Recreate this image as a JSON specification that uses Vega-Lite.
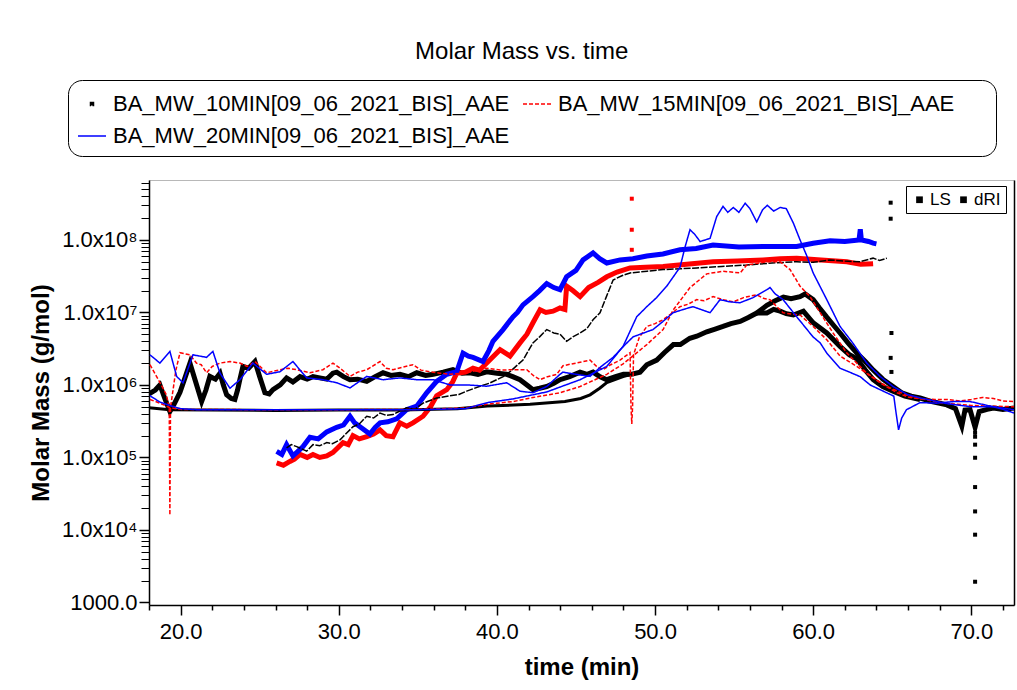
{
  "$schema": "https://vega.github.io/schema/vega-lite/v6.json",
  "width": 865,
  "height": 425,
  "autosize": {"type": "none"},
  "padding": {"left": 149, "top": 180, "right": 3, "bottom": 85},
  "background": "white",
  "title": {"text": "Molar Mass vs. time", "fontSize": 24, "fontWeight": "normal", "font": "Liberation Sans", "color": "#000", "anchor": "middle", "frame": "bounds", "offset": 16},
  "config": {
    "font": "Liberation Sans",
    "view": {"stroke": "#b8b8b8", "strokeWidth": 1},
    "axis": {"grid": false, "domainColor": "#000", "tickColor": "#000", "labelColor": "#000", "titleColor": "#000", "labelFont": "Liberation Sans", "titleFont": "Liberation Sans", "labelFlush": false, "labelOverlap": false},
    "legend": {"labelFont": "Liberation Sans", "labelColor": "#000"}
  },
  "datasets": {
    "series": [
      {"s": "Bn", "g": "10", "k": "T", "d": "LS"},
      {"s": "Bs", "g": "10", "k": "T", "d": "LS"},
      {"s": "Bf", "g": "10", "k": "M", "d": "dRI"},
      {"s": "Bt", "g": "10", "k": "L", "d": "dRI"},
      {"s": "Rk", "g": "15", "k": "T", "d": "LS"},
      {"s": "Rn", "g": "15", "k": "L", "d": "LS"},
      {"s": "Rf", "g": "15", "k": "L", "d": "dRI"},
      {"s": "Lk", "g": "20", "k": "T", "d": "LS"},
      {"s": "Ln", "g": "20", "k": "L", "d": "LS"},
      {"s": "Lf", "g": "20", "k": "L", "d": "dRI"},
      {"s": "Rd", "g": "15", "k": "D", "d": "LS"},
      {"s": "Bd", "g": "10", "k": "D", "d": "LS"}
    ],
    "pts": [
      {"s":"Bn","t":18.0,"m":7.5e5},{"s":"Bn","t":18.4,"m":8.5e5},{"s":"Bn","t":18.69,"m":1.0e6},{"s":"Bn","t":19.0,"m":6.5e5},{"s":"Bn","t":19.32,"m":4.3e5},{"s":"Bn","t":19.6,"m":5.5e5},{"s":"Bn","t":19.96,"m":7.9e5},{"s":"Bn","t":20.3,"m":1.3e6},{"s":"Bn","t":20.59,"m":2.0e6},{"s":"Bn","t":20.9,"m":1.2e6},{"s":"Bn","t":21.33,"m":5.9e5},{"s":"Bn","t":21.6,"m":8.5e5},{"s":"Bn","t":21.85,"m":1.31e6},{"s":"Bn","t":22.2,"m":1.2e6},{"s":"Bn","t":22.49,"m":1.45e6},{"s":"Bn","t":22.7,"m":1.0e6},{"s":"Bn","t":22.91,"m":7.3e5},{"s":"Bn","t":23.2,"m":6.5e5},{"s":"Bn","t":23.43,"m":6.3e5},{"s":"Bn","t":23.6,"m":8.5e5},{"s":"Bn","t":23.75,"m":1.2e6},{"s":"Bn","t":23.94,"m":1.8e6},{"s":"Bn","t":24.3,"m":1.7e6},{"s":"Bn","t":24.7,"m":2.1e6},{"s":"Bn","t":25.0,"m":1.3e6},{"s":"Bn","t":25.33,"m":7.8e5},{"s":"Bn","t":25.6,"m":7.5e5},{"s":"Bn","t":25.84,"m":8.6e5},{"s":"Bn","t":26.3,"m":1.0e6},{"s":"Bn","t":26.7,"m":1.25e6},{"s":"Bn","t":27.1,"m":1.1e6},{"s":"Bn","t":27.55,"m":1.3e6},{"s":"Bn","t":28.0,"m":1.2e6},{"s":"Bn","t":28.37,"m":1.3e6},{"s":"Bn","t":28.8,"m":1.25e6},{"s":"Bn","t":29.24,"m":1.2e6},{"s":"Bn","t":29.63,"m":1.45e6},{"s":"Bn","t":29.87,"m":1.5e6},{"s":"Bn","t":30.3,"m":1.3e6},{"s":"Bn","t":30.71,"m":1.18e6},{"s":"Bn","t":31.2,"m":1.2e6},{"s":"Bn","t":31.77,"m":1.12e6},{"s":"Bn","t":32.3,"m":1.3e6},{"s":"Bn","t":32.8,"m":1.47e6},{"s":"Bn","t":33.3,"m":1.35e6},{"s":"Bn","t":33.87,"m":1.4e6},{"s":"Bn","t":34.4,"m":1.3e6},{"s":"Bn","t":34.93,"m":1.47e6},{"s":"Bn","t":35.5,"m":1.35e6},{"s":"Bn","t":35.97,"m":1.4e6},{"s":"Bn","t":36.6,"m":1.5e6},{"s":"Bn","t":37.22,"m":1.62e6},{"s":"Bn","t":37.8,"m":1.45e6},{"s":"Bn","t":38.3,"m":1.47e6},{"s":"Bn","t":38.8,"m":1.4e6},{"s":"Bn","t":39.36,"m":1.52e6},{"s":"Bn","t":40.0,"m":1.45e6},{"s":"Bn","t":40.62,"m":1.4e6},{"s":"Bn","t":41.0,"m":1.3e6},{"s":"Bn","t":41.46,"m":1.18e6},{"s":"Bn","t":41.9,"m":1.0e6},{"s":"Bn","t":42.28,"m":8.6e5},{"s":"Bn","t":42.7,"m":9.0e5},{"s":"Bn","t":43.15,"m":9.5e5},{"s":"Bn","t":43.6,"m":1.05e6},{"s":"Bn","t":43.99,"m":1.18e6},{"s":"Bn","t":44.6,"m":1.3e6},{"s":"Bn","t":45.26,"m":1.5e6},{"s":"Bn","t":45.7,"m":1.4e6},{"s":"Bn","t":46.08,"m":1.5e6},{"s":"Bn","t":46.5,"m":1.3e6},{"s":"Bn","t":46.95,"m":1.18e6},{"s":"Bn","t":47.5,"m":1.3e6},{"s":"Bn","t":48.0,"m":1.4e6},{"s":"Bn","t":48.5,"m":1.4e6},{"s":"Bn","t":49.05,"m":1.5e6},{"s":"Bn","t":49.48,"m":1.9e6},{"s":"Bn","t":50.11,"m":2.2e6},{"s":"Bn","t":50.6,"m":2.8e6},{"s":"Bn","t":51.16,"m":3.6e6},{"s":"Bn","t":51.6,"m":3.6e6},{"s":"Bn","t":52.2,"m":4.4e6},{"s":"Bn","t":52.64,"m":4.7e6},{"s":"Bn","t":53.27,"m":5.4e6},{"s":"Bn","t":53.8,"m":5.9e6},{"s":"Bn","t":54.3,"m":6.4e6},{"s":"Bn","t":54.8,"m":7.0e6},{"s":"Bn","t":55.38,"m":7.5e6},{"s":"Bn","t":55.9,"m":8.5e6},{"s":"Bn","t":56.43,"m":9.8e6},{"s":"Bn","t":57.07,"m":1.25e7},{"s":"Bn","t":57.6,"m":1.45e7},{"s":"Bn","t":58.12,"m":1.63e7},{"s":"Bn","t":58.6,"m":1.55e7},{"s":"Bn","t":59.17,"m":1.65e7},{"s":"Bn","t":59.49,"m":1.8e7},{"s":"Bn","t":60.0,"m":1.5e7},{"s":"Bn","t":60.4,"m":1.15e7},{"s":"Bn","t":60.86,"m":8.6e6},{"s":"Bn","t":61.3,"m":6.6e6},{"s":"Bn","t":61.7,"m":5.2e6},{"s":"Bn","t":62.2,"m":3.8e6},{"s":"Bn","t":62.76,"m":2.75e6},{"s":"Bn","t":63.3,"m":2.1e6},{"s":"Bn","t":63.8,"m":1.6e6},{"s":"Bn","t":64.4,"m":1.2e6},{"s":"Bn","t":65.05,"m":9.5e5},{"s":"Bn","t":65.6,"m":7.8e5},{"s":"Bn","t":66.2,"m":7.0e5},{"s":"Bn","t":66.76,"m":6.6e5},{"s":"Bn","t":67.5,"m":5.9e5},{"s":"Bn","t":68.45,"m":5.3e5},{"s":"Bn","t":69.0,"m":4.7e5},{"s":"Bn","t":69.4,"m":2.7e5},{"s":"Bn","t":69.6,"m":4.5e5},{"s":"Bn","t":69.92,"m":4.55e5},{"s":"Bn","t":70.24,"m":2.6e5},{"s":"Bn","t":70.5,"m":4.3e5},{"s":"Bn","t":71.0,"m":4.6e5},{"s":"Bn","t":71.4,"m":4.8e5},{"s":"Bn","t":72.0,"m":4.6e5},{"s":"Bn","t":72.7,"m":4.8e5},
      {"s":"Bs","t":56.43,"m":9.8e6},{"s":"Bs","t":57.07,"m":9.8e6},{"s":"Bs","t":57.5,"m":1.1e7},{"s":"Bs","t":57.91,"m":1.04e7},{"s":"Bs","t":58.3,"m":9.6e6},{"s":"Bs","t":58.75,"m":9.2e6},{"s":"Bs","t":59.38,"m":1.04e7},{"s":"Bs","t":60.0,"m":7.2e6},{"s":"Bs","t":60.86,"m":5.2e6},{"s":"Bs","t":61.7,"m":3.4e6},{"s":"Bs","t":62.3,"m":2.6e6},{"s":"Bs","t":62.76,"m":2.3e6},{"s":"Bs","t":63.3,"m":1.6e6},{"s":"Bs","t":63.8,"m":1.18e6},{"s":"Bs","t":64.4,"m":9.5e5},{"s":"Bs","t":65.05,"m":8.2e5},{"s":"Bs","t":65.8,"m":7.0e5},{"s":"Bs","t":66.76,"m":6.3e5},
      {"s":"Bf","t":18.0,"m":4.85e5},{"s":"Bf","t":19.3,"m":4.55e5},{"s":"Bf","t":22.0,"m":4.5e5},{"s":"Bf","t":26.0,"m":4.45e5},{"s":"Bf","t":30.0,"m":4.5e5},{"s":"Bf","t":34.0,"m":4.5e5},{"s":"Bf","t":37.5,"m":4.7e5},{"s":"Bf","t":39.4,"m":5.1e5},{"s":"Bf","t":42.1,"m":5.4e5},{"s":"Bf","t":44.3,"m":5.9e5},{"s":"Bf","t":45.3,"m":6.5e5},{"s":"Bf","t":45.89,"m":7.3e5},{"s":"Bf","t":46.5,"m":9.0e5},{"s":"Bf","t":46.95,"m":1.08e6},{"s":"Bf","t":47.98,"m":1.3e6},{"s":"Bf","t":48.5,"m":1.4e6},
      {"s":"Bt","t":26.7,"m":1.35e5},{"s":"Bt","t":27.0,"m":1.5e5},{"s":"Bt","t":27.34,"m":1.41e5},{"s":"Bt","t":27.97,"m":1.22e5},{"s":"Bt","t":28.37,"m":1.5e5},{"s":"Bt","t":28.8,"m":1.45e5},{"s":"Bt","t":29.24,"m":1.6e5},{"s":"Bt","t":29.6,"m":1.55e5},{"s":"Bt","t":30.08,"m":1.75e5},{"s":"Bt","t":30.27,"m":1.93e5},{"s":"Bt","t":30.9,"m":2.65e5},{"s":"Bt","t":31.3,"m":2.9e5},{"s":"Bt","t":31.77,"m":3.7e5},{"s":"Bt","t":32.2,"m":3.5e5},{"s":"Bt","t":32.61,"m":4.1e5},{"s":"Bt","t":33.0,"m":3.8e5},{"s":"Bt","t":33.43,"m":3.9e5},{"s":"Bt","t":34.29,"m":4.85e5},{"s":"Bt","t":34.8,"m":4.6e5},{"s":"Bt","t":35.33,"m":5.6e5},{"s":"Bt","t":36.19,"m":6.6e5},{"s":"Bt","t":37.03,"m":7.1e5},{"s":"Bt","t":37.6,"m":7.4e5},{"s":"Bt","t":38.09,"m":8.2e5},{"s":"Bt","t":38.93,"m":9.6e5},{"s":"Bt","t":39.5,"m":1.05e6},{"s":"Bt","t":39.99,"m":1.18e6},{"s":"Bt","t":40.4,"m":1.3e6},{"s":"Bt","t":40.83,"m":1.52e6},{"s":"Bt","t":41.2,"m":1.8e6},{"s":"Bt","t":41.65,"m":2.2e6},{"s":"Bt","t":42.28,"m":3.8e6},{"s":"Bt","t":42.7,"m":4.6e6},{"s":"Bt","t":43.15,"m":5.8e6},{"s":"Bt","t":43.6,"m":5.2e6},{"s":"Bt","t":43.99,"m":5.0e6},{"s":"Bt","t":44.41,"m":4.0e6},{"s":"Bt","t":44.8,"m":4.6e6},{"s":"Bt","t":45.26,"m":5.2e6},{"s":"Bt","t":45.7,"m":6.0e6},{"s":"Bt","t":46.08,"m":7.9e6},{"s":"Bt","t":46.52,"m":9.9e6},{"s":"Bt","t":46.9,"m":1.6e7},{"s":"Bt","t":47.35,"m":2.8e7},{"s":"Bt","t":47.9,"m":3.2e7},{"s":"Bt","t":48.42,"m":3.5e7},{"s":"Bt","t":49.5,"m":3.7e7},{"s":"Bt","t":50.51,"m":3.9e7},{"s":"Bt","t":51.6,"m":4.0e7},{"s":"Bt","t":52.64,"m":4.1e7},{"s":"Bt","t":54.2,"m":4.3e7},{"s":"Bt","t":55.8,"m":4.5e7},{"s":"Bt","t":57.4,"m":4.8e7},{"s":"Bt","t":58.96,"m":5.0e7},{"s":"Bt","t":60.0,"m":4.9e7},{"s":"Bt","t":61.07,"m":5.3e7},{"s":"Bt","t":62.0,"m":5.1e7},{"s":"Bt","t":62.97,"m":5.0e7},{"s":"Bt","t":63.79,"m":5.6e7},{"s":"Bt","t":64.2,"m":5.2e7},{"s":"Bt","t":64.66,"m":5.6e7},
      {"s":"Rk","t":26.07,"m":8.4e4},{"s":"Rk","t":26.5,"m":7.8e4},{"s":"Rk","t":26.91,"m":8.8e4},{"s":"Rk","t":27.2,"m":9.5e4},{"s":"Rk","t":27.55,"m":1.1e5},{"s":"Rk","t":28.0,"m":1.0e5},{"s":"Rk","t":28.37,"m":1.1e5},{"s":"Rk","t":28.8,"m":1.0e5},{"s":"Rk","t":29.24,"m":1.05e5},{"s":"Rk","t":29.63,"m":1.17e5},{"s":"Rk","t":30.27,"m":1.6e5},{"s":"Rk","t":30.6,"m":1.5e5},{"s":"Rk","t":30.9,"m":2.0e5},{"s":"Rk","t":31.3,"m":1.8e5},{"s":"Rk","t":31.77,"m":1.93e5},{"s":"Rk","t":32.2,"m":2.1e5},{"s":"Rk","t":32.61,"m":2.4e5},{"s":"Rk","t":33.0,"m":2.0e5},{"s":"Rk","t":33.43,"m":1.93e5},{"s":"Rk","t":33.87,"m":3.0e5},{"s":"Rk","t":34.3,"m":2.7e5},{"s":"Rk","t":34.69,"m":3.0e5},{"s":"Rk","t":35.33,"m":3.7e5},{"s":"Rk","t":35.8,"m":5.0e5},{"s":"Rk","t":36.19,"m":7.1e5},{"s":"Rk","t":36.83,"m":8.6e5},{"s":"Rk","t":37.2,"m":1.1e6},{"s":"Rk","t":37.46,"m":1.45e6},{"s":"Rk","t":38.0,"m":1.5e6},{"s":"Rk","t":38.49,"m":1.7e6},{"s":"Rk","t":38.9,"m":1.6e6},{"s":"Rk","t":39.36,"m":2.0e6},{"s":"Rk","t":39.8,"m":2.5e6},{"s":"Rk","t":40.2,"m":3.06e6},{"s":"Rk","t":40.83,"m":2.5e6},{"s":"Rk","t":41.46,"m":3.8e6},{"s":"Rk","t":41.9,"m":5.0e6},{"s":"Rk","t":42.28,"m":7.2e6},{"s":"Rk","t":42.73,"m":1.09e7},{"s":"Rk","t":43.1,"m":1.0e7},{"s":"Rk","t":43.55,"m":1.04e7},{"s":"Rk","t":43.99,"m":1.15e7},{"s":"Rk","t":44.3,"m":1.1e7},{"s":"Rk","t":44.41,"m":2.3e7},{"s":"Rk","t":44.8,"m":2.0e7},{"s":"Rk","t":45.26,"m":1.65e7},{"s":"Rk","t":45.8,"m":2.2e7},{"s":"Rk","t":46.4,"m":2.6e7},{"s":"Rk","t":46.95,"m":3.1e7},{"s":"Rk","t":47.6,"m":3.6e7},{"s":"Rk","t":48.42,"m":4.1e7},{"s":"Rk","t":49.4,"m":4.2e7},{"s":"Rk","t":50.51,"m":4.3e7},{"s":"Rk","t":52.0,"m":4.6e7},{"s":"Rk","t":53.67,"m":5.0e7},{"s":"Rk","t":55.2,"m":5.1e7},{"s":"Rk","t":56.83,"m":5.3e7},{"s":"Rk","t":57.9,"m":5.5e7},{"s":"Rk","t":58.96,"m":5.6e7},{"s":"Rk","t":60.5,"m":5.3e7},{"s":"Rk","t":62.13,"m":5.0e7},{"s":"Rk","t":63.0,"m":4.6e7},{"s":"Rk","t":63.79,"m":4.7e7},
      {"s":"Rn","t":18.06,"m":1.9e6},{"s":"Rn","t":18.4,"m":1.4e6},{"s":"Rn","t":18.7,"m":1.07e6},{"s":"Rn","t":19.1,"m":7.3e5},{"s":"Rn","t":19.28,"m":4.85e5},{"s":"Rn","t":19.32,"m":1.6e4},{"s":"Rn","t":19.36,"m":4.85e5},{"s":"Rn","t":19.7,"m":1.6e6},{"s":"Rn","t":19.96,"m":2.78e6},{"s":"Rn","t":20.59,"m":2.6e6},{"s":"Rn","t":21.0,"m":2.0e6},{"s":"Rn","t":21.3,"m":1.9e6},{"s":"Rn","t":21.64,"m":1.47e6},{"s":"Rn","t":22.0,"m":1.8e6},{"s":"Rn","t":22.49,"m":2.0e6},{"s":"Rn","t":23.12,"m":2.1e6},{"s":"Rn","t":23.75,"m":2.0e6},{"s":"Rn","t":24.2,"m":1.8e6},{"s":"Rn","t":24.7,"m":2.1e6},{"s":"Rn","t":25.44,"m":1.47e6},{"s":"Rn","t":26.28,"m":1.62e6},{"s":"Rn","t":26.8,"m":1.7e6},{"s":"Rn","t":27.34,"m":1.62e6},{"s":"Rn","t":28.18,"m":1.47e6},{"s":"Rn","t":29.0,"m":1.62e6},{"s":"Rn","t":29.63,"m":2.0e6},{"s":"Rn","t":30.08,"m":1.7e6},{"s":"Rn","t":30.71,"m":1.31e6},{"s":"Rn","t":31.2,"m":1.5e6},{"s":"Rn","t":31.77,"m":1.62e6},{"s":"Rn","t":32.61,"m":2.1e6},{"s":"Rn","t":33.0,"m":1.7e6},{"s":"Rn","t":33.43,"m":1.62e6},{"s":"Rn","t":34.0,"m":1.75e6},{"s":"Rn","t":34.69,"m":1.9e6},{"s":"Rn","t":35.2,"m":1.6e6},{"s":"Rn","t":35.77,"m":1.52e6},{"s":"Rn","t":36.4,"m":1.45e6},{"s":"Rn","t":37.03,"m":1.4e6},{"s":"Rn","t":38.09,"m":1.47e6},{"s":"Rn","t":38.8,"m":1.6e6},{"s":"Rn","t":39.36,"m":1.7e6},{"s":"Rn","t":40.2,"m":1.6e6},{"s":"Rn","t":41.02,"m":1.62e6},{"s":"Rn","t":41.89,"m":1.62e6},{"s":"Rn","t":42.3,"m":1.35e6},{"s":"Rn","t":42.73,"m":1.18e6},{"s":"Rn","t":43.2,"m":1.3e6},{"s":"Rn","t":43.78,"m":1.4e6},{"s":"Rn","t":44.18,"m":1.84e6},{"s":"Rn","t":45.0,"m":2.0e6},{"s":"Rn","t":45.89,"m":2.2e6},{"s":"Rn","t":46.3,"m":1.8e6},{"s":"Rn","t":46.71,"m":1.62e6},{"s":"Rn","t":47.2,"m":1.9e6},{"s":"Rn","t":47.79,"m":2.2e6},{"s":"Rn","t":48.42,"m":2.78e6},{"s":"Rn","t":48.48,"m":5e5},{"s":"Rn","t":48.53,"m":2.9e5},{"s":"Rn","t":48.58,"m":5e5},{"s":"Rn","t":48.64,"m":2.6e6},{"s":"Rn","t":49.0,"m":4.5e6},{"s":"Rn","t":49.48,"m":6.4e6},{"s":"Rn","t":50.0,"m":7.0e6},{"s":"Rn","t":50.5,"m":7.9e6},{"s":"Rn","t":51.0,"m":9.5e6},{"s":"Rn","t":51.58,"m":1.2e7},{"s":"Rn","t":52.1,"m":1.3e7},{"s":"Rn","t":52.64,"m":1.5e7},{"s":"Rn","t":53.1,"m":1.45e7},{"s":"Rn","t":53.67,"m":1.65e7},{"s":"Rn","t":54.3,"m":1.5e7},{"s":"Rn","t":54.95,"m":1.4e7},{"s":"Rn","t":55.6,"m":1.6e7},{"s":"Rn","t":56.43,"m":1.75e7},{"s":"Rn","t":56.9,"m":1.55e7},{"s":"Rn","t":57.27,"m":1.5e7},{"s":"Rn","t":57.7,"m":1.2e7},{"s":"Rn","t":58.1,"m":9.9e6},{"s":"Rn","t":58.6,"m":9.5e6},{"s":"Rn","t":59.17,"m":9.2e6},{"s":"Rn","t":60.0,"m":6.4e6},{"s":"Rn","t":60.86,"m":4.2e6},{"s":"Rn","t":61.7,"m":2.5e6},{"s":"Rn","t":62.76,"m":1.8e6},{"s":"Rn","t":64.23,"m":1.07e6},{"s":"Rn","t":65.3,"m":7.8e5},{"s":"Rn","t":66.0,"m":6.8e5},{"s":"Rn","t":66.8,"m":6.4e5},{"s":"Rn","t":67.7,"m":6.3e5},{"s":"Rn","t":68.5,"m":6.3e5},{"s":"Rn","t":69.3,"m":6.0e5},{"s":"Rn","t":70.0,"m":6.3e5},{"s":"Rn","t":70.7,"m":6.7e5},{"s":"Rn","t":71.4,"m":6.5e5},{"s":"Rn","t":72.0,"m":6.0e5},{"s":"Rn","t":72.7,"m":5.9e5},
      {"s":"Rf","t":18.06,"m":6.3e5},{"s":"Rf","t":18.69,"m":5.6e5},{"s":"Rf","t":19.32,"m":4.85e5},{"s":"Rf","t":20.0,"m":4.6e5},{"s":"Rf","t":25.0,"m":4.55e5},{"s":"Rf","t":30.0,"m":4.55e5},{"s":"Rf","t":35.0,"m":4.6e5},{"s":"Rf","t":38.0,"m":4.8e5},{"s":"Rf","t":39.36,"m":5.4e5},{"s":"Rf","t":41.02,"m":5.9e5},{"s":"Rf","t":42.28,"m":6.7e5},{"s":"Rf","t":43.99,"m":7.8e5},{"s":"Rf","t":45.26,"m":9.5e5},{"s":"Rf","t":46.95,"m":1.4e6},{"s":"Rf","t":47.98,"m":1.95e6},{"s":"Rf","t":49.48,"m":3.6e6},{"s":"Rf","t":50.51,"m":5.8e6},{"s":"Rf","t":51.16,"m":1.09e7},{"s":"Rf","t":52.21,"m":2.2e7},{"s":"Rf","t":53.27,"m":3.4e7},{"s":"Rf","t":54.3,"m":3.7e7},{"s":"Rf","t":55.38,"m":3.5e7},{"s":"Rf","t":55.8,"m":4.5e7},{"s":"Rf","t":57.07,"m":5.0e7},{"s":"Rf","t":57.91,"m":5.0e7},{"s":"Rf","t":58.54,"m":3.9e7},{"s":"Rf","t":59.17,"m":2.3e7},{"s":"Rf","t":59.8,"m":1.65e7},{"s":"Rf","t":60.44,"m":9.9e6},{"s":"Rf","t":61.26,"m":5.2e6},{"s":"Rf","t":62.13,"m":2.75e6},{"s":"Rf","t":63.39,"m":1.45e6},{"s":"Rf","t":64.66,"m":9.5e5},{"s":"Rf","t":66.0,"m":7.1e5},{"s":"Rf","t":68.0,"m":5.7e5},{"s":"Rf","t":70.0,"m":5.2e5},{"s":"Rf","t":72.7,"m":5.0e5},
      {"s":"Lk","t":26.07,"m":1.21e5},{"s":"Lk","t":26.4,"m":1.1e5},{"s":"Lk","t":26.7,"m":1.5e5},{"s":"Lk","t":27.1,"m":1.05e5},{"s":"Lk","t":27.4,"m":1.2e5},{"s":"Lk","t":27.74,"m":1.41e5},{"s":"Lk","t":28.18,"m":1.9e5},{"s":"Lk","t":28.7,"m":1.8e5},{"s":"Lk","t":29.24,"m":2.25e5},{"s":"Lk","t":29.87,"m":2.6e5},{"s":"Lk","t":30.3,"m":2.8e5},{"s":"Lk","t":30.71,"m":3.7e5},{"s":"Lk","t":31.0,"m":3.0e5},{"s":"Lk","t":31.34,"m":2.65e5},{"s":"Lk","t":31.97,"m":2.1e5},{"s":"Lk","t":32.3,"m":2.6e5},{"s":"Lk","t":32.61,"m":3.0e5},{"s":"Lk","t":33.1,"m":3.1e5},{"s":"Lk","t":33.66,"m":3.4e5},{"s":"Lk","t":34.29,"m":4.55e5},{"s":"Lk","t":34.93,"m":5.1e5},{"s":"Lk","t":35.56,"m":7.8e5},{"s":"Lk","t":36.19,"m":1.12e6},{"s":"Lk","t":36.83,"m":1.4e6},{"s":"Lk","t":37.46,"m":1.52e6},{"s":"Lk","t":37.86,"m":2.75e6},{"s":"Lk","t":38.2,"m":2.5e6},{"s":"Lk","t":38.49,"m":2.4e6},{"s":"Lk","t":39.12,"m":2.1e6},{"s":"Lk","t":39.5,"m":3.0e6},{"s":"Lk","t":39.75,"m":4.0e6},{"s":"Lk","t":40.39,"m":5.8e6},{"s":"Lk","t":41.02,"m":8.7e6},{"s":"Lk","t":41.3,"m":1.0e7},{"s":"Lk","t":41.65,"m":1.27e7},{"s":"Lk","t":42.28,"m":1.65e7},{"s":"Lk","t":42.7,"m":2.0e7},{"s":"Lk","t":43.15,"m":2.5e7},{"s":"Lk","t":43.6,"m":2.2e7},{"s":"Lk","t":43.99,"m":2.06e7},{"s":"Lk","t":44.41,"m":3.1e7},{"s":"Lk","t":45.0,"m":3.8e7},{"s":"Lk","t":45.45,"m":5.3e7},{"s":"Lk","t":46.08,"m":6.6e7},{"s":"Lk","t":46.5,"m":5.5e7},{"s":"Lk","t":46.95,"m":4.8e7},{"s":"Lk","t":47.79,"m":5.3e7},{"s":"Lk","t":48.6,"m":5.5e7},{"s":"Lk","t":49.48,"m":6.0e7},{"s":"Lk","t":50.5,"m":6.4e7},{"s":"Lk","t":51.58,"m":7.3e7},{"s":"Lk","t":52.6,"m":7.6e7},{"s":"Lk","t":53.67,"m":8.5e7},{"s":"Lk","t":55.3,"m":8.0e7},{"s":"Lk","t":56.83,"m":8.1e7},{"s":"Lk","t":58.96,"m":8.1e7},{"s":"Lk","t":60.0,"m":9.0e7},{"s":"Lk","t":61.07,"m":9.7e7},{"s":"Lk","t":62.0,"m":9.5e7},{"s":"Lk","t":62.9,"m":1.0e8},{"s":"Lk","t":62.98,"m":1.4e8},{"s":"Lk","t":63.05,"m":1.0e8},{"s":"Lk","t":63.5,"m":9.5e7},{"s":"Lk","t":63.79,"m":9.0e7},{"s":"Lk","t":64.0,"m":8.8e7},
      {"s":"Ln","t":18.06,"m":2.6e6},{"s":"Ln","t":18.69,"m":2.0e6},{"s":"Ln","t":19.32,"m":2.9e6},{"s":"Ln","t":19.75,"m":1.31e6},{"s":"Ln","t":20.15,"m":1.07e6},{"s":"Ln","t":20.78,"m":2.6e6},{"s":"Ln","t":21.64,"m":2.4e6},{"s":"Ln","t":22.04,"m":2.9e6},{"s":"Ln","t":22.49,"m":1.45e6},{"s":"Ln","t":23.12,"m":9.0e5},{"s":"Ln","t":23.75,"m":1.18e6},{"s":"Ln","t":24.57,"m":2.0e6},{"s":"Ln","t":25.44,"m":1.4e6},{"s":"Ln","t":26.28,"m":1.52e6},{"s":"Ln","t":27.1,"m":2.1e6},{"s":"Ln","t":27.97,"m":1.25e6},{"s":"Ln","t":29.0,"m":1.18e6},{"s":"Ln","t":29.87,"m":1.07e6},{"s":"Ln","t":30.71,"m":9.1e5},{"s":"Ln","t":31.77,"m":1.31e6},{"s":"Ln","t":32.8,"m":1.18e6},{"s":"Ln","t":33.87,"m":1.25e6},{"s":"Ln","t":34.93,"m":1.18e6},{"s":"Ln","t":35.97,"m":1.18e6},{"s":"Ln","t":37.03,"m":1.0e6},{"s":"Ln","t":38.09,"m":1.0e6},{"s":"Ln","t":39.36,"m":9.6e5},{"s":"Ln","t":40.62,"m":1.07e6},{"s":"Ln","t":41.46,"m":8.2e5},{"s":"Ln","t":42.28,"m":7.8e5},{"s":"Ln","t":43.15,"m":9.5e5},{"s":"Ln","t":43.99,"m":1.4e6},{"s":"Ln","t":44.18,"m":1.5e6},{"s":"Ln","t":45.0,"m":1.4e6},{"s":"Ln","t":45.89,"m":1.31e6},{"s":"Ln","t":46.6,"m":1.8e6},{"s":"Ln","t":47.35,"m":2.4e6},{"s":"Ln","t":48.0,"m":3.4e6},{"s":"Ln","t":48.61,"m":4.6e6},{"s":"Ln","t":49.87,"m":5.8e6},{"s":"Ln","t":50.5,"m":7.5e6},{"s":"Ln","t":51.14,"m":9.9e6},{"s":"Ln","t":51.8,"m":1.1e7},{"s":"Ln","t":52.4,"m":1.2e7},{"s":"Ln","t":53.48,"m":9.9e6},{"s":"Ln","t":54.11,"m":1.5e7},{"s":"Ln","t":54.7,"m":1.4e7},{"s":"Ln","t":55.38,"m":1.36e7},{"s":"Ln","t":56.2,"m":1.6e7},{"s":"Ln","t":57.07,"m":2.06e7},{"s":"Ln","t":57.27,"m":2.2e7},{"s":"Ln","t":57.6,"m":1.8e7},{"s":"Ln","t":58.1,"m":1.5e7},{"s":"Ln","t":58.96,"m":8.7e6},{"s":"Ln","t":59.99,"m":4.6e6},{"s":"Ln","t":60.44,"m":3.8e6},{"s":"Ln","t":60.86,"m":2.75e6},{"s":"Ln","t":61.7,"m":1.7e6},{"s":"Ln","t":62.3,"m":1.5e6},{"s":"Ln","t":62.97,"m":1.3e6},{"s":"Ln","t":63.6,"m":1.0e6},{"s":"Ln","t":64.23,"m":8.6e5},{"s":"Ln","t":65.1,"m":7.0e5},{"s":"Ln","t":65.25,"m":4.0e5},{"s":"Ln","t":65.4,"m":2.4e5},{"s":"Ln","t":65.6,"m":3.5e5},{"s":"Ln","t":65.9,"m":4.55e5},{"s":"Ln","t":66.76,"m":5.7e5},{"s":"Ln","t":67.8,"m":5.6e5},{"s":"Ln","t":68.9,"m":5.9e5},{"s":"Ln","t":69.92,"m":5.9e5},{"s":"Ln","t":70.7,"m":5.4e5},{"s":"Ln","t":71.4,"m":5.0e5},{"s":"Ln","t":72.0,"m":4.6e5},{"s":"Ln","t":72.7,"m":4.1e5},
      {"s":"Lf","t":18.06,"m":7.1e5},{"s":"Lf","t":18.69,"m":5.8e5},{"s":"Lf","t":19.32,"m":5.2e5},{"s":"Lf","t":20.0,"m":4.7e5},{"s":"Lf","t":21.0,"m":4.55e5},{"s":"Lf","t":25.0,"m":4.55e5},{"s":"Lf","t":30.0,"m":4.55e5},{"s":"Lf","t":35.0,"m":4.55e5},{"s":"Lf","t":38.0,"m":4.7e5},{"s":"Lf","t":39.4,"m":5.7e5},{"s":"Lf","t":41.0,"m":6.4e5},{"s":"Lf","t":43.15,"m":8.0e5},{"s":"Lf","t":45.26,"m":1.18e6},{"s":"Lf","t":46.95,"m":1.8e6},{"s":"Lf","t":47.98,"m":3.4e6},{"s":"Lf","t":48.84,"m":8.7e6},{"s":"Lf","t":49.48,"m":1.2e7},{"s":"Lf","t":50.1,"m":1.6e7},{"s":"Lf","t":50.74,"m":2.3e7},{"s":"Lf","t":51.58,"m":4.2e7},{"s":"Lf","t":51.9,"m":8.0e7},{"s":"Lf","t":52.21,"m":1.38e8},{"s":"Lf","t":52.5,"m":1.2e8},{"s":"Lf","t":52.85,"m":9.5e7},{"s":"Lf","t":53.48,"m":1.05e8},{"s":"Lf","t":53.9,"m":2.1e8},{"s":"Lf","t":54.3,"m":2.9e8},{"s":"Lf","t":54.6,"m":2.4e8},{"s":"Lf","t":54.95,"m":2.8e8},{"s":"Lf","t":55.3,"m":2.4e8},{"s":"Lf","t":55.7,"m":3.2e8},{"s":"Lf","t":56.0,"m":2.7e8},{"s":"Lf","t":56.43,"m":1.77e8},{"s":"Lf","t":56.8,"m":2.6e8},{"s":"Lf","t":57.1,"m":3.0e8},{"s":"Lf","t":57.5,"m":2.5e8},{"s":"Lf","t":57.91,"m":2.8e8},{"s":"Lf","t":58.3,"m":2.7e8},{"s":"Lf","t":58.75,"m":1.7e8},{"s":"Lf","t":59.17,"m":1.0e8},{"s":"Lf","t":59.6,"m":6.0e7},{"s":"Lf","t":60.0,"m":3.5e7},{"s":"Lf","t":60.86,"m":1.5e7},{"s":"Lf","t":61.7,"m":6.4e6},{"s":"Lf","t":62.5,"m":3.8e6},{"s":"Lf","t":63.39,"m":2.0e6},{"s":"Lf","t":64.23,"m":1.31e6},{"s":"Lf","t":65.05,"m":9.5e5},{"s":"Lf","t":66.0,"m":7.3e5},{"s":"Lf","t":66.8,"m":6.6e5},{"s":"Lf","t":68.5,"m":5.5e5},{"s":"Lf","t":70.0,"m":5.0e5},{"s":"Lf","t":71.4,"m":5.0e5},{"s":"Lf","t":72.7,"m":4.55e5},
      {"s":"Rd","t":48.53,"m":3.7e8},{"s":"Rd","t":48.53,"m":1.38e8},{"s":"Rd","t":48.53,"m":7.3e7},
      {"s":"Bd","t":64.9,"m":3.26e8},{"s":"Bd","t":64.9,"m":1.96e8},{"s":"Bd","t":64.95,"m":5.2e6},{"s":"Bd","t":64.9,"m":2.36e6},{"s":"Bd","t":64.95,"m":1.51e6},
      {"s":"Bd","t":70.24,"m":2.19e5},{"s":"Bd","t":70.24,"m":1.93e5},{"s":"Bd","t":70.24,"m":1.5e5},{"s":"Bd","t":70.24,"m":9.9e4},{"s":"Bd","t":70.24,"m":3.9e4},{"s":"Bd","t":70.24,"m":1.8e4},{"s":"Bd","t":70.24,"m":8.6e3},{"s":"Bd","t":70.24,"m":1.93e3}
    ]
  },
  "data": {"name": "pts"},
  "transform": [
    {"lookup": "s", "from": {"data": {"name": "series"}, "key": "s", "fields": ["g", "k", "d"]}}
  ],
  "layer": [
    {
      "transform": [{"filter": {"field": "k", "equal": "T"}}],
      "mark": {"type": "line", "strokeWidth": 5, "clip": true},
      "encoding": {
        "x": {"field": "t", "type": "quantitative", "scale": {"domain": [18, 72.7], "nice": false, "zero": false},
          "axis": {"orient": "bottom", "values": [20, 30, 40, 50, 60, 70], "format": ".1f", "labelFontSize": 22, "tickSize": 10, "tickWidth": 1.5, "domainWidth": 1.5, "labelPadding": 6, "title": "time (min)", "titleFontSize": 24, "titleFontWeight": "bold", "titlePadding": 13}},
        "y": {"field": "m", "type": "quantitative", "scale": {"type": "log", "domain": [922, 6.7e8], "nice": false},
          "axis": {"orient": "left", "values": [1000, 10000, 100000, 1000000, 10000000, 100000000], "labelExpr": "datum.value < 5000 ? '1000.0' : '1.0x10' + (datum.value < 5e4 ? '\u2074' : datum.value < 5e5 ? '\u2075' : datum.value < 5e6 ? '\u2076' : datum.value < 5e7 ? '\u2077' : '\u2078')", "labelFontSize": 22, "tickSize": 10, "tickWidth": 1.5, "domainWidth": 1.5, "labelPadding": 2, "title": "Molar Mass (g/mol)", "titleFontSize": 24, "titleFontWeight": "bold", "titlePadding": 8}},
        "color": {"field": "g", "type": "nominal", "scale": {"domain": ["10", "15", "20"], "range": ["#000000", "#ff0000", "#0000ff"]},
          "legend": {"orient": "none", "legendX": -81, "legendY": -100, "direction": "horizontal", "columns": 2, "title": null, "strokeColor": "#000", "cornerRadius": 14, "padding": 9, "columnPadding": 10, "rowPadding": 6, "symbolType": "stroke", "symbolSize": 784, "symbolStrokeWidth": 1.5, "labelFontSize": 22, "labelOffset": 6, "labelLimit": 1000,
            "labelExpr": "'BA_MW_' + datum.label + 'MIN[09_06_2021_BIS]_AAE' + (datum.label == '15' ? '\u2800\u2800' : '')",
            "encode": {"symbols": {"update": {
              "shape": {"signal": "datum.value == '10' ? 'square' : 'stroke'"},
              "size": {"signal": "datum.value == '10' ? 9 : 784"},
              "fill": {"signal": "datum.value == '10' ? '#000' : 'transparent'"},
              "strokeDash": {"signal": "datum.value == '15' ? [3, 2] : [1, 0]"}
            }}}}},
        "detail": {"field": "s"}
      }
    },
    {
      "transform": [{"filter": {"field": "k", "equal": "M"}}],
      "mark": {"type": "line", "strokeWidth": 3, "clip": true},
      "encoding": {
        "x": {"field": "t", "type": "quantitative",
          "axis": {"orient": "bottom", "values": [18, 22, 24, 26, 28, 32, 34, 36, 38, 42, 44, 46, 48, 52, 54, 56, 58, 62, 64, 66, 68, 72], "labels": false, "domain": false, "tickSize": 5, "tickWidth": 1.5, "title": null}},
        "y": {"field": "m", "type": "quantitative",
          "axis": {"orient": "left", "values": [900, 2000, 3000, 4000, 5000, 6000, 7000, 8000, 9000, 20000, 30000, 40000, 50000, 60000, 70000, 80000, 90000, 200000, 300000, 400000, 500000, 600000, 700000, 800000, 900000, 2000000, 3000000, 4000000, 5000000, 6000000, 7000000, 8000000, 9000000, 20000000, 30000000, 40000000, 50000000, 60000000, 70000000, 80000000, 90000000, 200000000, 300000000, 400000000, 500000000, 600000000], "labels": false, "domain": false, "tickSize": 8, "tickWidth": 1, "title": null}},
        "color": {"field": "g", "type": "nominal"},
        "detail": {"field": "s"}
      }
    },
    {
      "transform": [{"filter": {"field": "k", "equal": "L"}}],
      "mark": {"type": "line", "strokeWidth": 1.5, "clip": true},
      "encoding": {
        "x": {"field": "t", "type": "quantitative", "axis": null},
        "y": {"field": "m", "type": "quantitative",
          "axis": {"orient": "right", "ticks": false, "labels": false, "domain": true, "domainWidth": 1.5, "title": null}},
        "color": {"field": "g", "type": "nominal"},
        "strokeDash": {"field": "g", "type": "nominal", "scale": {"domain": ["10", "15", "20"], "range": [[7, 1.5], [4, 2], [1, 0]]}, "legend": null},
        "detail": {"field": "s"}
      }
    },
    {
      "transform": [{"filter": {"field": "k", "equal": "D"}}],
      "mark": {"type": "point", "filled": true, "size": 16, "opacity": 1, "clip": true},
      "encoding": {
        "x": {"field": "t", "type": "quantitative", "axis": null},
        "y": {"field": "m", "type": "quantitative", "axis": null},
        "fill": {"field": "g", "type": "nominal", "scale": {"domain": ["10", "15", "20"], "range": ["#000000", "#ff0000", "#0000ff"]}, "legend": null},
        "shape": {"field": "d", "type": "nominal", "scale": {"domain": ["LS", "dRI"], "range": ["square", "square"]},
          "legend": {"orient": "none", "legendX": 757, "legendY": 6, "direction": "horizontal", "title": null, "strokeColor": "#000", "cornerRadius": 0, "padding": 5, "columnPadding": 4, "labelFontSize": 17, "labelOffset": 2, "symbolSize": 45, "symbolFillColor": "#000", "symbolStrokeColor": "#000", "symbolStrokeWidth": 0,
            "encode": {"symbols": {"update": {"fill": {"value": "#000"}, "stroke": {"value": "#000"}}}}}}
      }
    }
  ],
  "resolve": {"axis": {"x": "independent", "y": "independent"}, "scale": {"color": "shared"}}
}
